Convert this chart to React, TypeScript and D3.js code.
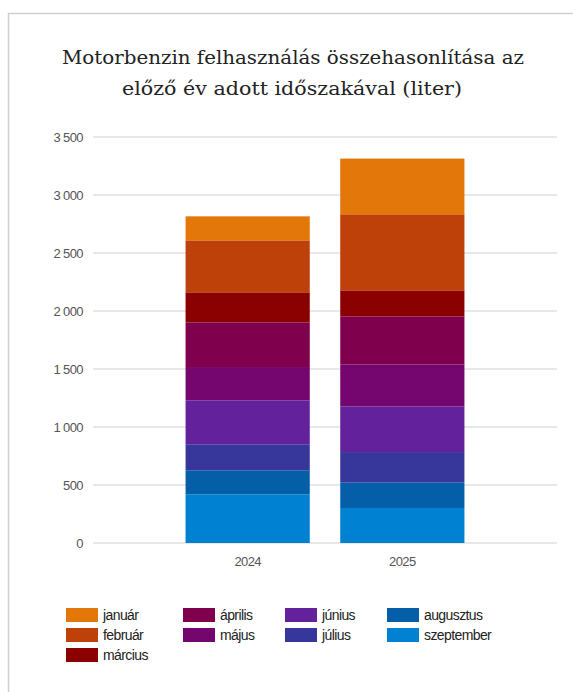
import * as d3 from 'd3';

const years = ['2024', '2025'];
const months = ['január', 'február', 'március', 'április', 'május', 'június', 'július', 'augusztus', 'szeptember'];
const colors = ['#e3770a', '#bf410a', '#8b0000', '#7f004d', '#76066f', '#63229b', '#37379b', '#045ea8', '#0181d1'];
// values per month, [2024, 2025]
const values2024 = [207, 448, 259, 385, 287, 379, 224, 207, 420];
const values2025 = [480, 656, 224, 414, 362, 394, 261, 221, 302];
const yTicks = [0, 500, 1000, 1500, 2000, 2500, 3000, 3500];

// legend columns
const legendCols = [
    ['január', 'február', 'március'],
    ['április', 'május'],
    ['június', 'július'],
    ['augusztus', 'szeptember'],
];

const W = 573;
const H = 692;
const plot = { left: 93, right: 557, top: 137, bottom: 543 };

const fmt = (v: number) => d3.format(',')(v).replace(/,/g, ' ');

export default function App() {
    const rows = years.map((yr, i) => {
        const row: { [k: string]: number | string } = { year: yr };
        months.forEach((m, j) => {
            row[m] = i === 0 ? values2024[j] : values2025[j];
        });
        return row;
    });

    // bottom of stack is szeptember, top is január
    const stack = d3.stack<any>().keys([...months].reverse());
    const series = stack(rows);

    const x = d3.scalePoint<string>().domain(years).range([plot.left, plot.right]).padding(1);
    const barW = x.step() * 0.803;
    const y = d3.scaleLinear().domain([0, 3500]).range([plot.bottom, plot.top]);
    const color = d3.scaleOrdinal<string, string>().domain(months).range(colors);

    const colX = [66, 183, 285, 387];

    return (
        <svg width={W} height={H} style={{ position: 'absolute', left: 0, top: 0, background: '#fff' }}>
            <rect x={8.5} y={13.5} width={700} height={800} fill="#fff" stroke="#d0d0d0" strokeWidth={1.5} />

            <text x={293} y={64} textAnchor="middle" fontFamily="'DejaVu Serif', serif" fontSize={18} fill="#222"
                textLength={462} lengthAdjust="spacingAndGlyphs">
                Motorbenzin felhasználás összehasonlítása az
            </text>
            <text x={292} y={95} textAnchor="middle" fontFamily="'DejaVu Serif', serif" fontSize={18} fill="#222"
                textLength={340} lengthAdjust="spacingAndGlyphs">
                előző év adott időszakával (liter)
            </text>

            {yTicks.map(t => (
                <g key={t}>
                    <line x1={plot.left} x2={plot.right} y1={y(t)} y2={y(t)} stroke="#e0e0e0" strokeWidth={1.5} />
                    <text x={83} y={y(t) + 4.5} textAnchor="end" fontFamily="'Liberation Sans', Arial, sans-serif"
                        fontSize={13} fill="#555" letterSpacing={-0.6}>
                        {fmt(t)}
                    </text>
                </g>
            ))}

            {series.map(s => (
                <g key={s.key} fill={color(s.key)}>
                    {s.map((d, i) => (
                        <rect key={i} x={x(years[i])! - barW / 2} width={barW}
                            y={y(d[1])} height={y(d[0]) - y(d[1])} />
                    ))}
                </g>
            ))}

            {years.map(yr => (
                <text key={yr} x={x(yr)} y={566} textAnchor="middle" fontFamily="'Liberation Sans', Arial, sans-serif"
                    fontSize={13} fill="#555" letterSpacing={-0.6}>
                    {yr}
                </text>
            ))}

            {legendCols.map((col, ci) => col.map((m, ri) => (
                <g key={m} transform={`translate(${colX[ci]},${608 + ri * 20})`}>
                    <rect width={32} height={14} fill={color(m)} />
                    <text x={37} y={12} fontFamily="'Liberation Sans', Arial, sans-serif" fontSize={14}
                        fill="#222" letterSpacing={-0.6}>
                        {m}
                    </text>
                </g>
            )))}
        </svg>
    );
}
